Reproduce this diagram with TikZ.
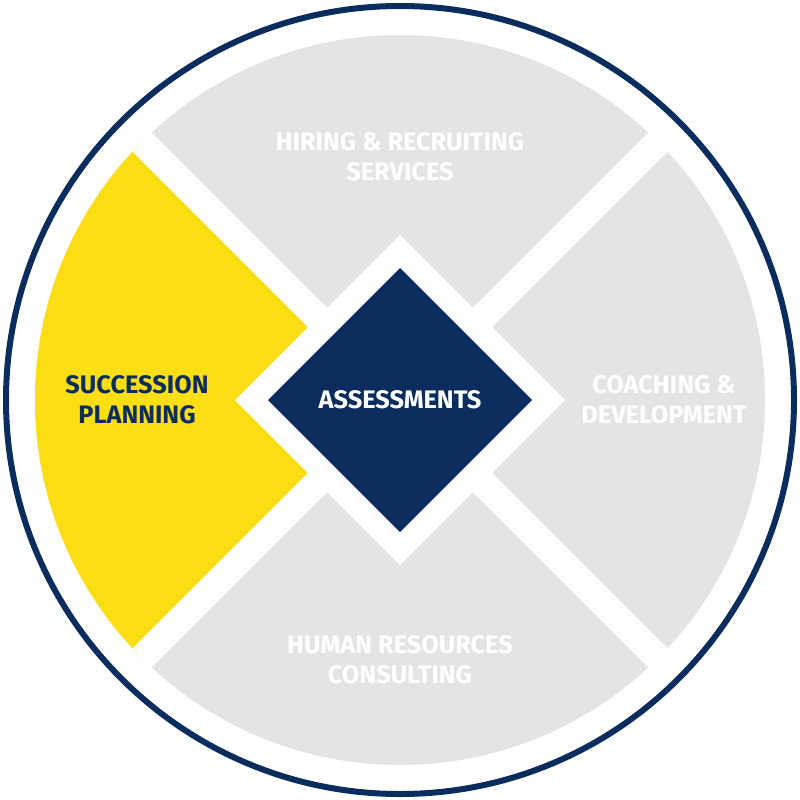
\documentclass[tikz,border=0pt]{standalone}
\usepackage{fontspec}
\setmainfont{Fira Sans}
\definecolor{navy}{HTML}{0B2D5E}
\definecolor{sunny}{HTML}{FCDE14}
\definecolor{paleGray}{HTML}{E4E4E4}
\begin{document}
\begin{tikzpicture}[x=0.01cm,y=-0.01cm,
    label/.style={font=\fontsize{7.2}{8.6}\selectfont\bfseries,align=center,text=white}]
        \useasboundingbox (0,0) rectangle (800,800);
        % quadrants
        \begin{scope}
          \clip (400,400) circle (365);
          \fill[paleGray] (0,0) rectangle (800,800);
          \fill[sunny] (400,400) -- (0,0) -- (0,800) -- cycle;
          \draw[white,line width=0.27cm] (0,0) -- (800,800);
          \draw[white,line width=0.27cm] (800,0) -- (0,800);
        \end{scope}
        \fill[white] (400,235) -- (565,400) -- (400,565) -- (235,400) -- cycle;
        \fill[navy] (400,268) -- (532,400) -- (400,532) -- (268,400) -- cycle;
        \draw[navy,line width=0.06cm] (400,400) circle (394);
        % labels
        \node[label] (center) at (400,400) {ASSESSMENTS};
        \node[label] (top) at (400,157) {HIRING \& RECRUITING\\SERVICES};
        \node[label] (right) at (664,400) {COACHING \&\\DEVELOPMENT};
        \node[label] (bottom) at (400,660) {HUMAN RESOURCES\\CONSULTING};
        \node[label,text=navy] (left) at (137,400) {SUCCESSION\\PLANNING};
\end{tikzpicture}
\end{document}
